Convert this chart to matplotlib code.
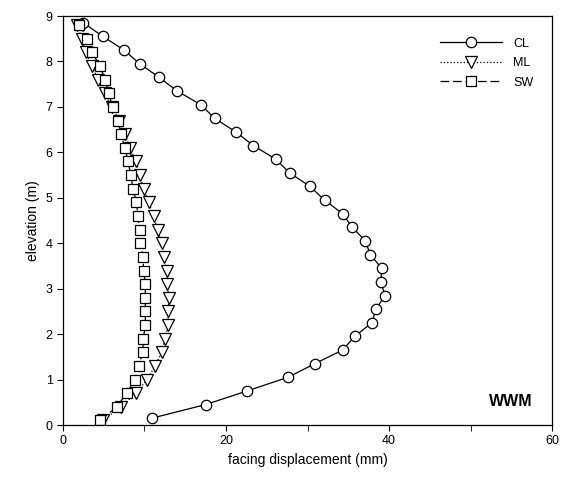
import matplotlib.pyplot as plt
from matplotlib.ticker import MultipleLocator

plt.rcParams['font.family'] = ['Liberation Sans', 'DejaVu Sans']

# elevations of the gauges (m)
elev_cl = [0.15, 0.45, 0.75, 1.05, 1.35, 1.65, 1.95, 2.25, 2.55, 2.85,
           3.15, 3.45, 3.75, 4.05, 4.35, 4.65, 4.95, 5.25, 5.55, 5.85,
           6.15, 6.45, 6.75, 7.05, 7.35, 7.65, 7.95, 8.25, 8.55, 8.85]
elev_wall = [0.1, 0.4, 0.7, 1.0, 1.3, 1.6, 1.9, 2.2, 2.5, 2.8,
             3.1, 3.4, 3.7, 4.0, 4.3, 4.6, 4.9, 5.2, 5.5, 5.8,
             6.1, 6.4, 6.7, 7.0, 7.3, 7.6, 7.9, 8.2, 8.5, 8.8]

# facing displacement (mm)
disp_cl = [10.9, 17.5, 22.6, 27.6, 30.9, 34.3, 35.8, 37.9, 38.4, 39.5,
           39.0, 39.1, 37.7, 37.1, 35.5, 34.3, 32.1, 30.3, 27.8, 26.1,
           23.35, 21.2, 18.6, 16.9, 14.0, 11.8, 9.4, 7.5, 4.9, 2.5]
disp_ml = [4.9, 7.1, 9.0, 10.3, 11.3, 12.1, 12.5, 12.9, 12.9, 13.0,
           12.8, 12.7, 12.4, 12.1, 11.6, 11.15, 10.5, 9.9, 9.4, 9.0,
           8.2, 7.6, 6.9, 6.0, 5.1, 4.3, 3.6, 2.8, 2.3, 1.75]
disp_sw = [4.6, 6.6, 7.8, 8.8, 9.3, 9.8, 9.85, 10.1, 10.1, 10.1,
           10.1, 9.9, 9.8, 9.5, 9.4, 9.2, 9.0, 8.6, 8.3, 8.0,
           7.6, 7.1, 6.7, 6.1, 5.6, 5.2, 4.5, 3.6, 3.0, 2.0]

fig = plt.figure(figsize=(5.66, 4.86), dpi=100)
ax = fig.add_axes([0.1113, 0.1255, 0.864, 0.8415])

ax.plot(disp_cl, elev_cl, '-', color='black', lw=0.9, marker='o', ms=7.5,
        mfc='white', mec='black', mew=0.9, label='CL')
ax.plot(disp_ml, elev_wall, ':', color='black', lw=0.9,
        marker='v', ms=8, mfc='white', mec='black', mew=0.9, label='ML')
ax.plot(disp_sw, elev_wall, color='black', lw=0.9, dashes=(7, 3),
        marker='s', ms=7.5, mfc='white', mec='black', mew=0.9, label='SW')

ax.set_xlim(0, 60)
ax.set_ylim(0, 9)
ax.xaxis.set_major_locator(MultipleLocator(20))
ax.xaxis.set_minor_locator(MultipleLocator(10))
ax.yaxis.set_major_locator(MultipleLocator(1))
ax.tick_params(which='both', direction='out', labelsize=9, length=4,
               top=False, right=False)
for s in ax.spines.values():
    s.set_linewidth(0.9)

ax.set_xlabel('facing displacement (mm)', fontsize=10)
ax.set_ylabel('elevation (m)', fontsize=10)

ax.legend(loc='upper right', frameon=False, fontsize=9, handlelength=5.0,
          labelspacing=0.6, handletextpad=0.9, bbox_to_anchor=(0.985, 0.975))
ax.text(0.96, 0.04, 'WWM', transform=ax.transAxes, fontsize=11.5,
        fontweight='bold', ha='right', va='bottom')

fig.savefig('out.png', dpi=100)
